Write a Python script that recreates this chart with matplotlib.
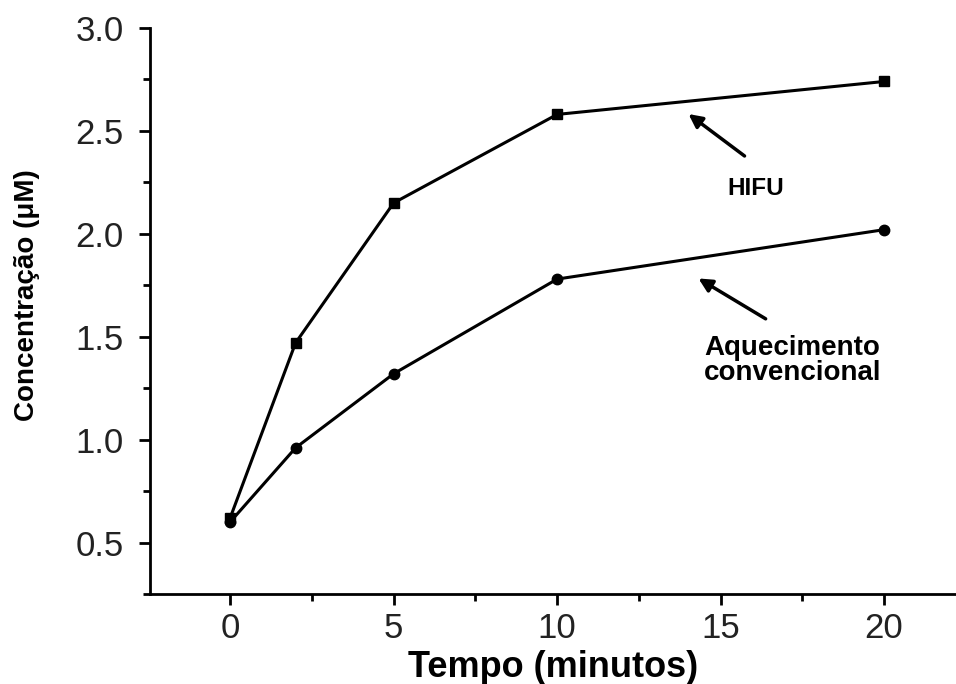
import matplotlib
matplotlib.use('Agg')
import matplotlib.pyplot as plt
from matplotlib.ticker import MultipleLocator

tempo = [0, 2, 5, 10, 20]
hifu = [0.62, 1.47, 2.15, 2.58, 2.74]
convencional = [0.60, 0.96, 1.32, 1.78, 2.02]

plt.rcParams['font.family'] = ['Liberation Sans', 'DejaVu Sans']

fig = plt.figure(figsize=(9.56, 6.84), dpi=100)
ax = fig.add_axes([0.157, 0.1316, 0.843, 0.8275])

ax.plot(tempo, hifu, color='black', lw=2.2, marker='s', ms=7.5)
ax.plot(tempo, convencional, color='black', lw=2.2, marker='o', ms=7.5)

ax.set_xlim(-2.45, 22.2)
ax.set_ylim(0.25, 3.0)
ax.xaxis.set_major_locator(MultipleLocator(5))
ax.xaxis.set_minor_locator(MultipleLocator(2.5))
ax.yaxis.set_minor_locator(MultipleLocator(0.25))
ax.set_yticks([0.5, 1.0, 1.5, 2.0, 2.5, 3.0])
ax.set_yticklabels(['0.5', '1.0', '1.5', '2.0', '2.5', '3.0'])

for s in ['top', 'right']:
    ax.spines[s].set_visible(False)
for s in ['left', 'bottom']:
    ax.spines[s].set_linewidth(2)

ax.tick_params(which='major', length=8, width=2, labelsize=25, colors='black',
               labelcolor='#222222', pad=11)
ax.tick_params(axis='x', which='major', pad=5)
ax.tick_params(which='minor', length=5, width=2)

ax.set_xlabel('Tempo (minutos)', fontsize=26, fontweight='bold')
ax.xaxis.set_label_coords(0.5, -0.099, transform=ax.transAxes)
ax.xaxis.label.set_va('top')
ax.set_ylabel('Concentração (μM)', fontsize=20, fontweight='bold')
ax.yaxis.set_label_coords(-0.153, 0.528)
ax.yaxis.label.set_va('center')

ax.annotate('', xy=(13.95, 2.59), xytext=(15.8, 2.37),
            arrowprops=dict(arrowstyle='-|>', color='black', lw=2.5,
                            mutation_scale=20))
ax.text(16.06, 2.22, 'HIFU', fontsize=17.5, fontweight='bold', ha='center', va='center')

ax.annotate('', xy=(14.25, 1.79), xytext=(16.45, 1.58),
            arrowprops=dict(arrowstyle='-|>', color='black', lw=2.5,
                            mutation_scale=20))
ax.text(14.5, 1.385, 'Aquecimento\nconvencional', fontsize=20, fontweight='bold',
        ha='left', va='center', linespacing=0.95)

fig.savefig('out.png', dpi=100)
